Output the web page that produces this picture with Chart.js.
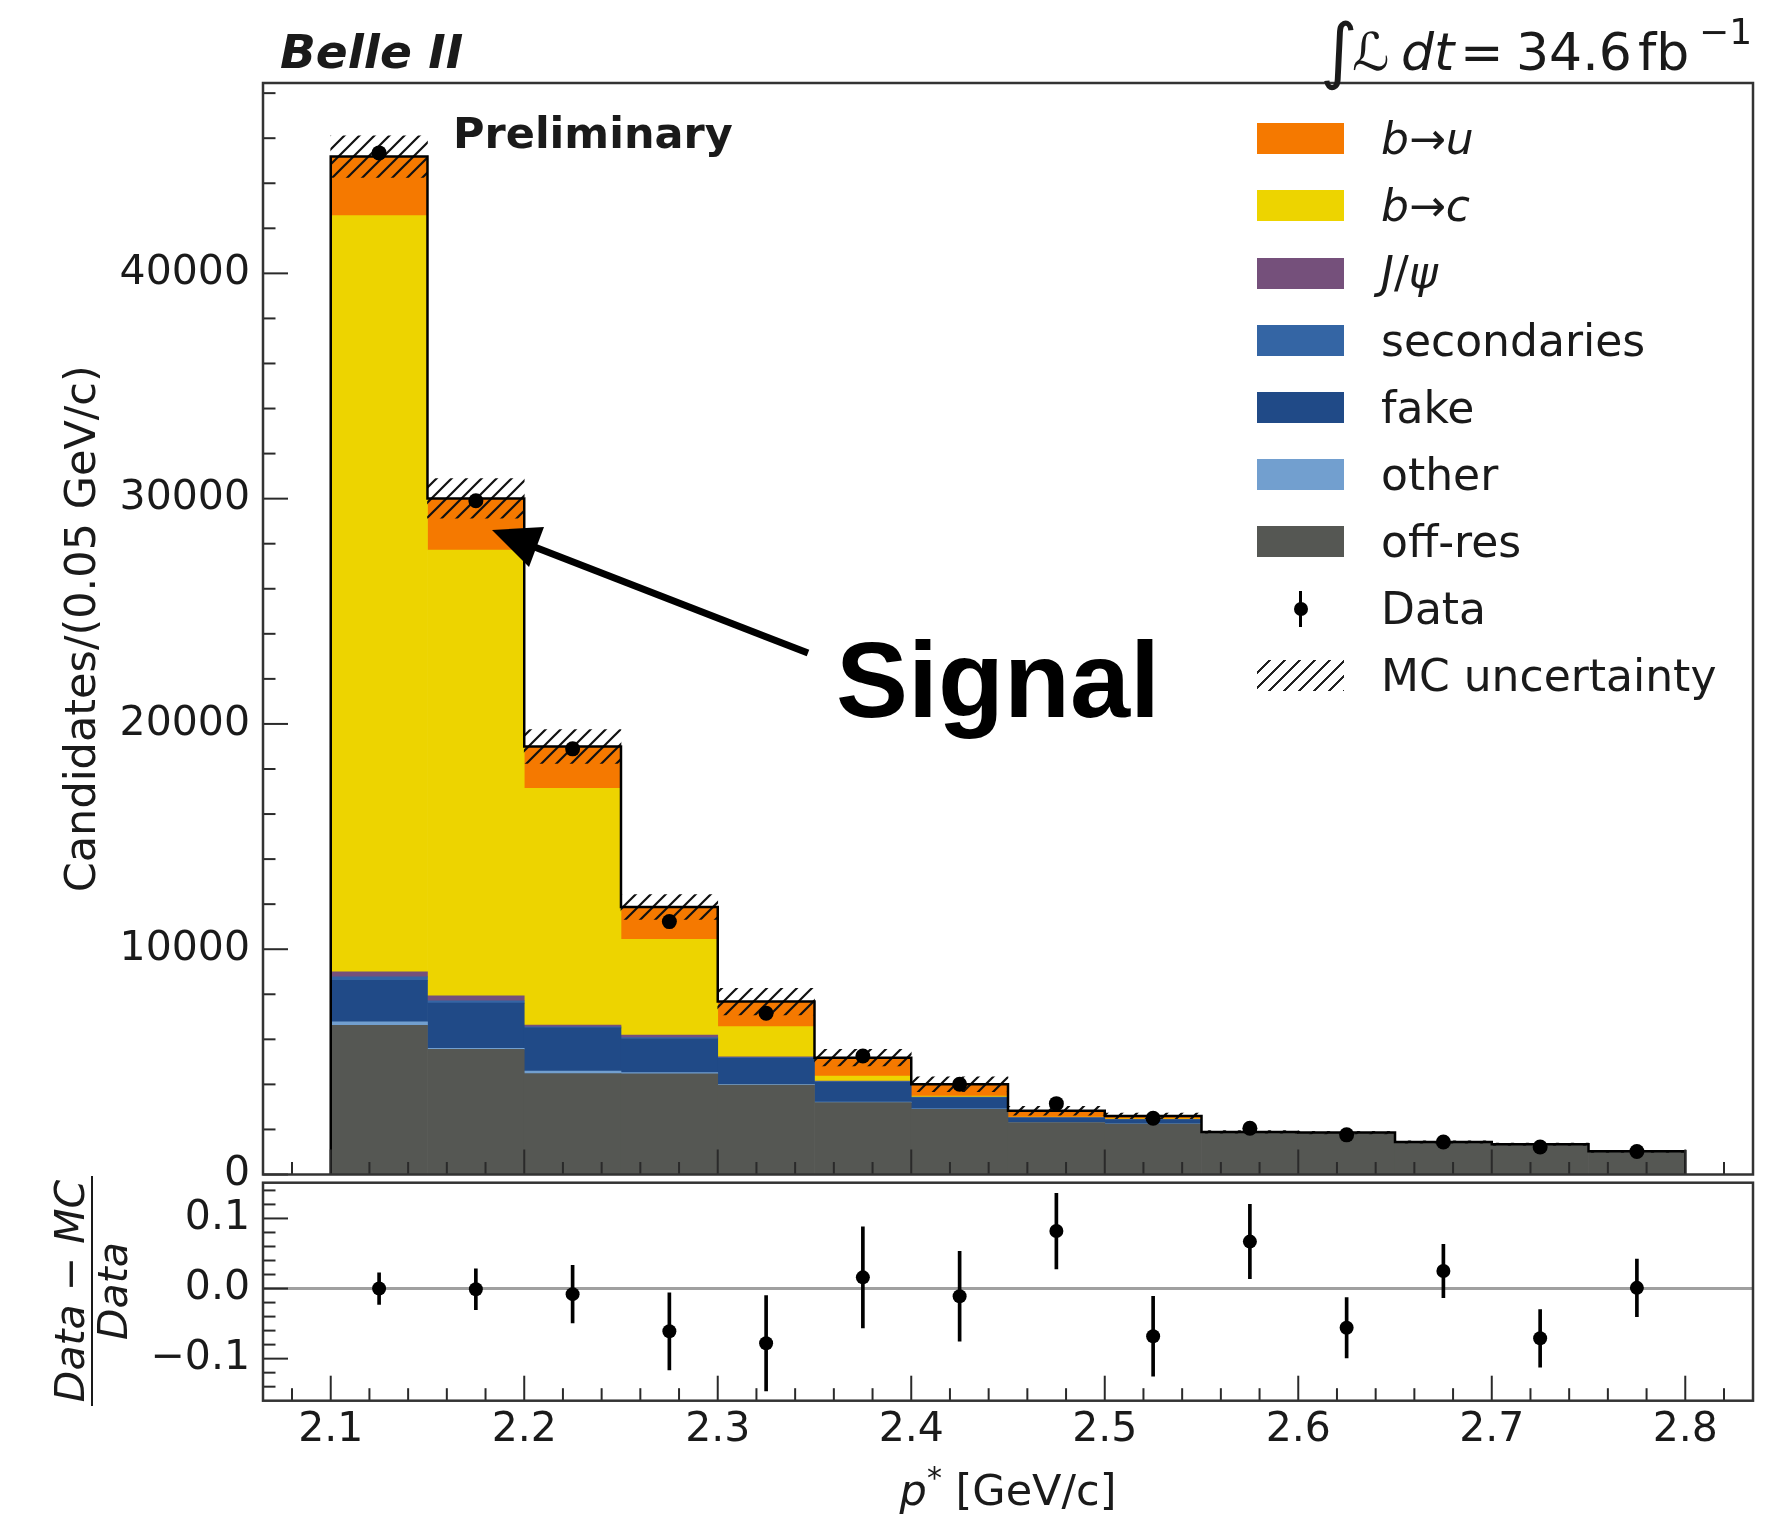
<!DOCTYPE html>
<html><head><meta charset="utf-8">
<script src="https://cdn.jsdelivr.net/npm/chart.js@4.4.0/dist/chart.umd.min.js"></script>
<style>
html,body{margin:0;padding:0;background:#fff;}
#wrap{position:relative;width:1777px;height:1519px;overflow:hidden;font-family:'DejaVu Sans';color:#1a1a1a;}
canvas{position:absolute;left:0;top:0;}
.t{position:absolute;white-space:nowrap;line-height:1.164;}
.box{position:absolute;left:1257px;width:87px;height:31px;}
.lt{position:absolute;left:1381px;font-size:44px;line-height:1.164;white-space:nowrap;}
i{font-style:italic;}
</style></head>
<body><div id="wrap">
<canvas id="main" width="1777" height="1519"></canvas>
<canvas id="ratio" width="1777" height="1519"></canvas>

<div class="t" style="left:280px;top:25px;font-size:47px;font-weight:bold;font-style:italic;">Belle II</div>

<div class="t" style="left:1320px;top:9px;font-size:72px;">∫</div>
<div class="t" style="left:1352px;top:22px;font-size:52px;font-style:italic;">ℒ</div>
<div class="t" style="left:1401px;top:22px;font-size:52px;font-style:italic;">dt</div>
<div class="t" style="left:1460px;top:22px;font-size:52px;">=</div>
<div class="t" style="left:1516px;top:22px;font-size:52px;">34.6</div>
<div class="t" style="left:1638px;top:22px;font-size:52px;">fb</div>
<div class="t" style="left:1699px;top:11px;font-size:36px;">−1</div>

<div class="t" style="left:453px;top:108px;font-size:43px;font-weight:bold;">Preliminary</div>

<div class="t" style="left:836px;top:620px;font-size:108px;font-weight:bold;font-family:'Liberation Sans';line-height:1.117;color:#000;">Signal</div>
<svg style="position:absolute;left:0;top:0;" width="1777" height="1519">
  <line x1="808" y1="653" x2="532" y2="546" stroke="#000" stroke-width="7"/>
  <polygon points="492,530 544,527 529,567" fill="#000"/>
</svg>

<div id="legend"></div>

<div class="t" style="left:1008px;top:1465px;font-size:43px;transform:translateX(-50%);"><i>p</i><span style="font-size:30px;position:relative;top:-17px;">*</span> [GeV/c]</div>

<div style="position:absolute;left:-23px;top:1249px;width:230px;text-align:center;font-size:41px;line-height:1;transform:rotate(-90deg);transform-origin:50% 50%;">
  <div style="border-bottom:2.5px solid #1a1a1a;white-space:nowrap;"><i>Data</i> − <i>MC</i></div>
  <div style="white-space:nowrap;"><i>Data</i></div>
</div>
</div>
<script>
// ---------------- data ----------------
const binEdges   = [2.10, 2.15, 2.20, 2.25, 2.30, 2.35, 2.40, 2.45, 2.50, 2.55, 2.60, 2.65, 2.70, 2.75, 2.80];
const binCenters = [2.125, 2.175, 2.225, 2.275, 2.325, 2.375, 2.425, 2.475, 2.525, 2.575, 2.625, 2.675, 2.725, 2.775];
const offRes      = [6625, 5559, 4476, 4470, 3974, 3188, 2895, 2300, 2240, 1876, 1846, 1426, 1326, 1016];
const other       = [147, 40, 120, 50, 30, 30, 20, 10, 10, 0, 0, 0, 0, 0];
const fake        = [1851, 2005, 1909, 1515, 1156, 880, 490, 192, 181, 8, 8, 8, 8, 8];
const secondaries = [147, 100, 50, 40, 30, 30, 20, 10, 10, 0, 0, 0, 0, 0];
const jpsi        = [222, 222, 83, 119, 28, 24, 16, 10, 10, 0, 0, 0, 0, 0];
const bToC        = [33570, 19792, 10498, 4250, 1345, 222, 45, 31, 20, 0, 0, 0, 0, 0];
const bToU        = [2620, 2291, 1860, 1434, 1111, 813, 519, 277, 127, 6, 6, 6, 6, 6];
const mcUnc       = [920, 880, 750, 550, 590, 370, 330, 200, 125, 60, 60, 50, 50, 45];
const dataCounts  = [45346, 29907, 18895, 11226, 7158, 5262, 4005, 3144, 2495, 2050, 1760, 1440, 1220, 1020];
const ratioVals   = [0.000, -0.001, -0.008, -0.061, -0.078, 0.016, -0.011, 0.082, -0.068, 0.067, -0.056, 0.025, -0.071, 0.001];
const ratioErr    = [0.0225, 0.029, 0.041, 0.055, 0.068, 0.072, 0.064, 0.054, 0.057, 0.053, 0.043, 0.038, 0.041, 0.041];
const xTicks      = [2.1, 2.2, 2.3, 2.4, 2.5, 2.6, 2.7, 2.8];
const yTicksMain  = [0, 10000, 20000, 30000, 40000];
const yTicksRatio = [-0.1, 0.0, 0.1];

const components = [
  {label: 'off-res',     vals: offRes,      color: '#555753'},
  {label: 'other',       vals: other,       color: '#729FCF'},
  {label: 'fake',        vals: fake,        color: '#204A87'},
  {label: 'secondaries', vals: secondaries, color: '#3465A4'},
  {label: 'J/ψ',         vals: jpsi,        color: '#75507B'},
  {label: 'b→c',         vals: bToC,        color: '#EDD400'},
  {label: 'b→u',         vals: bToU,        color: '#F57900'}
];

// ---------------- helpers ----------------
Chart.defaults.font.family = "'DejaVu Sans'";
Chart.defaults.color = '#1a1a1a';

function minorList(lo, hi, step, majors) {
  const out = [];
  const n = Math.round((hi - lo) / step);
  for (let k = 0; k <= n; k++) {
    const v = Math.round((lo + k * step) * 1e6) / 1e6;
    if (!majors.some(m => Math.abs(m - v) < step / 10)) out.push(v);
  }
  return out;
}
const xMinor = minorList(2.08, 2.82, 0.02, xTicks);

const framePlugin = {
  id: 'frame',
  afterDatasetsDraw(chart, args, o) {
    const {ctx, chartArea: a} = chart;
    const x = chart.scales.x, y = chart.scales.y;
    ctx.save();
    ctx.strokeStyle = '#2a2a2a';
    ctx.lineWidth = 2;
    const seg = (x1, y1, x2, y2) => { ctx.beginPath(); ctx.moveTo(x1, y1); ctx.lineTo(x2, y2); ctx.stroke(); };
    o.xMajor.forEach(v => { const p = x.getPixelForValue(v); seg(p, a.bottom, p, a.bottom - 25); });
    o.xMinor.forEach(v => { const p = x.getPixelForValue(v); seg(p, a.bottom, p, a.bottom - 12.5); });
    o.yMajor.forEach(v => { const p = y.getPixelForValue(v); seg(a.left, p, a.left + 25, p); });
    o.yMinor.forEach(v => { const p = y.getPixelForValue(v); seg(a.left, p, a.left + 12.5, p); });
    ctx.strokeStyle = '#333';
    ctx.lineWidth = 2.5;
    ctx.strokeRect(a.left, a.top, a.right - a.left, a.bottom - a.top);
    ctx.restore();
  }
};

function hatchPattern(ctx) {
  const s = 15;
  const c = document.createElement('canvas');
  c.width = s; c.height = s;
  const g = c.getContext('2d');
  g.strokeStyle = '#111';
  g.lineWidth = 2.2;
  g.beginPath();
  g.moveTo(0, s); g.lineTo(s, 0);
  g.moveTo(-s / 2, s / 2); g.lineTo(s / 2, -s / 2);
  g.moveTo(s / 2, s * 1.5); g.lineTo(s * 1.5, s / 2);
  g.stroke();
  return ctx.createPattern(c, 'repeat');
}

// ---------------- main panel ----------------
const mainCtx = document.getElementById('main').getContext('2d');
const cum = binCenters.map(() => 0);
const barSets = components.map((c, k) => ({
  type: 'bar',
  label: c.label,
  data: binCenters.map((x, i) => { const lo = cum[i]; cum[i] += c.vals[i]; return {x: x, y: [lo, cum[i]]}; }),
  backgroundColor: c.color,
  borderWidth: 0,
  barPercentage: 1,
  categoryPercentage: 1,
  grouped: false,
  order: 10 + k
}));
const totals = cum.slice();

const outlinePts = [{x: binEdges[0], y: 0}];
for (let i = 0; i < binCenters.length; i++) outlinePts.push({x: binEdges[i], y: totals[i]});
outlinePts.push({x: binEdges[binEdges.length - 1], y: totals[totals.length - 1]});
outlinePts.push({x: binEdges[binEdges.length - 1], y: 0});

new Chart(mainCtx, {
  type: 'bar',
  data: {
    datasets: [
      ...barSets,
      {
        type: 'bar', label: 'MC uncertainty',
        data: binCenters.map((x, i) => ({x: x, y: [totals[i] - mcUnc[i], totals[i] + mcUnc[i]]})),
        backgroundColor: hatchPattern(mainCtx), borderWidth: 0,
        barPercentage: 1, categoryPercentage: 1, grouped: false, order: 5
      },
      {
        type: 'line', label: 'total',
        data: outlinePts, stepped: 'before', borderColor: '#000', borderWidth: 2.5,
        pointRadius: 0, fill: false, order: 1
      },
      {
        type: 'line', label: 'Data',
        data: binCenters.map((x, i) => ({x: x, y: dataCounts[i]})),
        showLine: false, pointRadius: 7.5, pointBackgroundColor: '#000', pointBorderColor: '#000',
        pointBorderWidth: 0, order: 0
      }
    ]
  },
  options: {
    responsive: false, animation: false, devicePixelRatio: 1,
    layout: {padding: {left: 0, right: 24, top: 83, bottom: 344.5}},
    plugins: {
      legend: {display: false}, tooltip: {enabled: false},
      frame: {xMajor: xTicks, xMinor: xMinor, yMajor: yTicksMain, yMinor: minorList(0, 48000, 2000, yTicksMain)}
    },
    scales: {
      x: {
        type: 'linear', min: 2.065, max: 2.835, offset: false, display: false,
        afterBuildTicks: s => { s.ticks = xTicks.map(v => ({value: v})); }
      },
      y: {
        type: 'linear', min: 0, max: 48450,
        afterBuildTicks: s => { s.ticks = yTicksMain.map(v => ({value: v})); },
        afterFit: s => { s.width = 263; },
        grid: {display: false, drawTicks: false},
        border: {display: false},
        ticks: {padding: 13, font: {size: 41}, color: '#1a1a1a', callback: v => String(v)},
        title: {display: true, text: 'Candidates/(0.05 GeV/c)', font: {size: 43}, color: '#1a1a1a', padding: {top: 58, bottom: 0}}
      }
    }
  },
  plugins: [framePlugin]
});

// ---------------- ratio panel ----------------
const ratioCtx = document.getElementById('ratio').getContext('2d');
const zeroLine = {
  id: 'zeroLine',
  beforeDatasetsDraw(chart) {
    const {ctx, chartArea: a} = chart;
    const p = chart.scales.y.getPixelForValue(0);
    ctx.save();
    ctx.strokeStyle = '#a0a0a0'; ctx.lineWidth = 3;
    ctx.beginPath(); ctx.moveTo(a.left, p); ctx.lineTo(a.right, p); ctx.stroke();
    ctx.restore();
  }
};
new Chart(ratioCtx, {
  type: 'bar',
  data: {
    datasets: [
      {
        type: 'line', label: 'ratio',
        data: binCenters.map((x, i) => ({x: x, y: ratioVals[i]})),
        showLine: false, pointRadius: 7, pointBackgroundColor: '#000', pointBorderColor: '#000',
        pointBorderWidth: 0, order: 0
      },
      {
        type: 'bar', label: 'ratio error',
        data: binCenters.map((x, i) => ({x: x, y: [ratioVals[i] - ratioErr[i], ratioVals[i] + ratioErr[i]]})),
        backgroundColor: '#000', borderWidth: 0, barThickness: 3, grouped: false, order: 1
      }
    ]
  },
  options: {
    responsive: false, animation: false, devicePixelRatio: 1,
    layout: {padding: {left: 0, right: 24, top: 1182.7, bottom: 18.3}},
    plugins: {
      legend: {display: false}, tooltip: {enabled: false},
      frame: {xMajor: xTicks, xMinor: xMinor, yMajor: yTicksRatio, yMinor: minorList(-0.14, 0.14, 0.02, yTicksRatio)}
    },
    scales: {
      x: {
        type: 'linear', min: 2.065, max: 2.835, offset: false,
        afterBuildTicks: s => { s.ticks = xTicks.map(v => ({value: v})); },
        afterFit: s => { s.height = 100; },
        grid: {display: false, drawTicks: false},
        border: {display: false},
        ticks: {padding: 5, font: {size: 41}, color: '#1a1a1a', maxRotation: 0, autoSkip: false, callback: v => v.toFixed(1)}
      },
      y: {
        type: 'linear', min: -0.160, max: 0.151,
        afterBuildTicks: s => { s.ticks = yTicksRatio.map(v => ({value: v})); },
        afterFit: s => { s.width = 263; },
        grid: {display: false, drawTicks: false},
        border: {display: false},
        ticks: {padding: 13, font: {size: 41}, color: '#1a1a1a', callback: v => (v < -1e-9 ? '−' : '') + Math.abs(v).toFixed(1)}
      }
    }
  },
  plugins: [framePlugin, zeroLine]
});

// ---------------- legend (HTML) ----------------
const legendRows = [
  {html: '<i>b</i>→<i>u</i>', color: '#F57900'},
  {html: '<i>b</i>→<i>c</i>', color: '#EDD400'},
  {html: '<i>J</i>/<i>ψ</i>', color: '#75507B'},
  {html: 'secondaries', color: '#3465A4'},
  {html: 'fake', color: '#204A87'},
  {html: 'other', color: '#729FCF'},
  {html: 'off-res', color: '#555753'},
  {html: 'Data', kind: 'data'},
  {html: 'MC uncertainty', kind: 'hatch'}
];
const lg = document.getElementById('legend');
legendRows.forEach((r, i) => {
  const cy = 138.8 + 67.1 * i;
  let sym = '';
  if (r.kind === 'data') {
    sym = `<div style="position:absolute;left:1299px;top:${cy - 18}px;width:3px;height:36px;background:#000;"></div>` +
          `<div style="position:absolute;left:${1300.5 - 7}px;top:${cy - 7}px;width:14px;height:14px;border-radius:50%;background:#000;"></div>`;
  } else if (r.kind === 'hatch') {
    sym = `<div class="box" style="top:${cy - 15.5}px;background:repeating-linear-gradient(135deg, transparent 0px, transparent 8.4px, #222 8.4px, #222 10.6px);"></div>`;
  } else {
    sym = `<div class="box" style="top:${cy - 15.5}px;background:${r.color};"></div>`;
  }
  lg.insertAdjacentHTML('beforeend', sym + `<div class="lt" style="top:${cy - 25.6}px;">${r.html}</div>`);
});
</script>
</body></html>
